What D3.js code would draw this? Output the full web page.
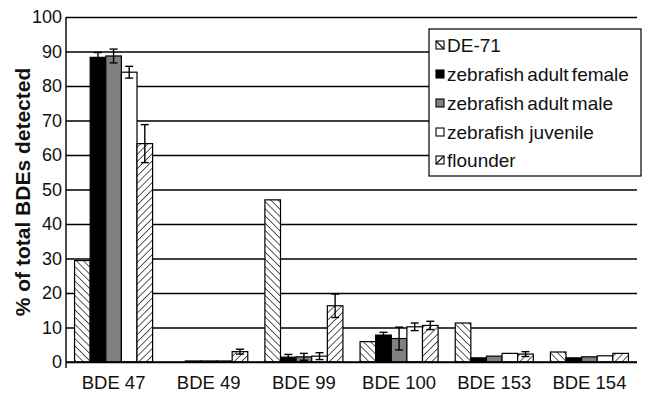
<!DOCTYPE html>
<html>
<head>
<meta charset="utf-8">
<script src="https://cdn.jsdelivr.net/npm/d3@7"></script>
<style>
  html, body { margin: 0; padding: 0; background: #fff; }
  svg { display: block; font-family: "Liberation Sans", Arial, sans-serif; }
</style>
</head>
<body>
<svg id="chart" width="649" height="395"></svg>
<script>
// PBDE congener profiles (% of total BDEs detected)
const categories = ["BDE 47", "BDE 49", "BDE 99", "BDE 100", "BDE 153", "BDE 154"];
const seriesNames = ["DE-71", "zebrafish adult female", "zebrafish adult male", "zebrafish juvenile", "flounder"];

const de71     = [29.4, 0,   47.0, 5.9,  11.3, 2.9];
const female   = [88.3, 0.3, 1.4,  7.8,  1.2,  1.2];
const male     = [88.7, 0.3, 1.5,  6.8,  1.7,  1.5];
const juvenile = [84.0, 0.3, 1.7,  10.2, 2.5,  1.8];
const flounder = [63.3, 3.0, 16.3, 10.6, 2.3,  2.5];

// standard deviations (0 = no bar drawn)
const de71Err     = [0,   0,   0,   0,   0,   0];
const femaleErr   = [1.4, 0,   0.8, 0.8, 0,   0];
const maleErr     = [2.0, 0,   1.0, 3.3, 0,   0];
const juvenileErr = [1.7, 0,   1.0, 1.1, 0,   0];
const flounderErr = [5.5, 0.7, 3.4, 1.2, 0.7, 0];

const yTicks = [0, 10, 20, 30, 40, 50, 60, 70, 80, 90, 100];

const seriesValues = [de71, female, male, juvenile, flounder];
const seriesErrors = [de71Err, femaleErr, maleErr, juvenileErr, flounderErr];
const fills = ["url(#hatchBack)", "#000000", "#808080", "#ffffff", "url(#hatchFwd)"];

const svg = d3.select("#chart");
const plotLeft = 66, plotRight = 637, plotTop = 17, plotBottom = 362;

// hatch patterns
const defs = svg.append("defs");
function hatch(id, angle) {
  const p = defs.append("pattern")
    .attr("id", id)
    .attr("patternUnits", "userSpaceOnUse")
    .attr("width", 5.1).attr("height", 5.1)
    .attr("patternTransform", `rotate(${angle})`);
  p.append("rect").attr("width", 5.1).attr("height", 5.1).attr("fill", "#fff");
  p.append("line").attr("x1", 0).attr("y1", 0).attr("x2", 0).attr("y2", 5.1)
    .attr("stroke", "#000").attr("stroke-width", 1.3);
}
hatch("hatchBack", -45);
hatch("hatchFwd", 45);

const x0 = d3.scaleBand().domain(categories).range([plotLeft, plotRight]).paddingInner(0.18).paddingOuter(0.09);
const x1 = d3.scaleBand().domain(d3.range(seriesNames.length)).range([0, x0.bandwidth()]);
const y = d3.scaleLinear().domain([0, 100]).range([plotBottom, plotTop]);

// gridlines
svg.append("g")
  .attr("transform", `translate(${plotLeft},0)`)
  .call(d3.axisLeft(y).tickValues(yTicks).tickSize(-(plotRight - plotLeft)).tickFormat(""))
  .call(g => g.select(".domain").remove())
  .call(g => g.selectAll("line").attr("stroke", "#000").attr("stroke-width", 1.3));

// y tick labels
svg.append("g")
  .selectAll("text")
  .data(yTicks)
  .join("text")
  .attr("x", 62)
  .attr("y", d => y(d))
  .attr("dy", "0.36em")
  .attr("text-anchor", "end")
  .attr("font-size", 18)
  .attr("fill", "#111")
  .text(d => d);

// bars
const rows = categories.map((c, i) => ({ cat: c, i }));
const groups = svg.append("g").selectAll("g")
  .data(rows)
  .join("g")
  .attr("transform", d => `translate(${x0(d.cat)},0)`);

groups.selectAll("rect")
  .data(d => seriesValues.map((vals, s) => ({ s, v: vals[d.i] })))
  .join("rect")
  .attr("x", d => x1(d.s))
  .attr("width", x1.bandwidth())
  .attr("y", d => y(d.v))
  .attr("height", d => y(0) - y(d.v))
  .attr("fill", d => fills[d.s])
  .attr("stroke", "#000")
  .attr("stroke-width", d => d.v > 0 ? 1.2 : 0);

// error bars
const errs = [];
rows.forEach(r => seriesValues.forEach((vals, s) => {
  const e = seriesErrors[s][r.i];
  if (e > 0) errs.push({ cat: r.cat, s, v: vals[r.i], e });
}));
const eg = svg.append("g").attr("stroke", "#000").attr("stroke-width", 1.4);
errs.forEach(d => {
  const cx = x0(d.cat) + x1(d.s) + x1.bandwidth() / 2;
  const hi = y(d.v + d.e), lo = y(Math.max(0, d.v - d.e));
  eg.append("line").attr("x1", cx).attr("x2", cx).attr("y1", hi).attr("y2", lo);
  eg.append("line").attr("x1", cx - 4).attr("x2", cx + 4).attr("y1", hi).attr("y2", hi);
  eg.append("line").attr("x1", cx - 4).attr("x2", cx + 4).attr("y1", lo).attr("y2", lo);
});

// axis lines
svg.append("line").attr("x1", plotLeft).attr("x2", plotLeft).attr("y1", plotTop).attr("y2", plotBottom + 6)
  .attr("stroke", "#000").attr("stroke-width", 1.4);
svg.append("line").attr("x1", plotLeft).attr("x2", plotRight).attr("y1", plotBottom).attr("y2", plotBottom)
  .attr("stroke", "#000").attr("stroke-width", 1.6);

// x labels
svg.append("g")
  .selectAll("text")
  .data(categories)
  .join("text")
  .attr("x", d => x0(d) + x0.bandwidth() / 2)
  .attr("y", 389)
  .attr("text-anchor", "middle")
  .attr("font-size", 18.5)
  .attr("fill", "#111")
  .text(d => d);

// y title
svg.append("text")
  .attr("transform", "translate(30,192) rotate(-90)")
  .attr("text-anchor", "middle")
  .attr("font-size", 21)
  .attr("font-weight", "bold")
  .attr("fill", "#111")
  .text("% of total BDEs detected");

// legend
const lg = svg.append("g");
lg.append("rect").attr("x", 429).attr("y", 29).attr("width", 212).attr("height", 147)
  .attr("fill", "#fff").attr("stroke", "#000").attr("stroke-width", 1.2);
const legendY = [45, 74, 103, 132, 160];
seriesNames.forEach((name, s) => {
  const cy = legendY[s];
  lg.append("rect").attr("x", 436).attr("y", cy - 4).attr("width", 8).attr("height", 8)
    .attr("fill", s === 0 || s === 4 ? "#fff" : fills[s])
    .attr("stroke", "#000").attr("stroke-width", 1.1);
  if (s === 0) {
    lg.append("line").attr("x1", 436).attr("y1", cy - 4).attr("x2", 444).attr("y2", cy + 4)
      .attr("stroke", "#000").attr("stroke-width", 1.1);
  }
  if (s === 4) {
    lg.append("line").attr("x1", 436).attr("y1", cy + 4).attr("x2", 444).attr("y2", cy - 4)
      .attr("stroke", "#000").attr("stroke-width", 1.1);
  }
  lg.append("text").attr("x", 447).attr("y", cy).attr("dy", "0.36em")
    .attr("font-size", 19).attr("fill", "#111")
    .attr("word-spacing", name.startsWith("zebrafish adult") ? "-2" : "0")
    .text(name);
});
</script>
</body>
</html>
